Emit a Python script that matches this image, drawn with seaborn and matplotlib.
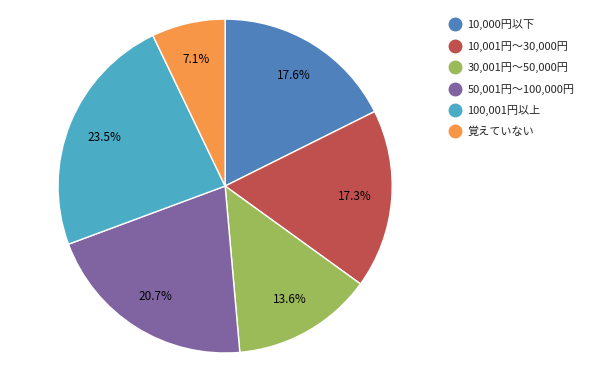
import matplotlib.pyplot as plt
import seaborn as sns
from matplotlib.lines import Line2D

categories = ["10,000円以下", "10,001円～30,000円", "30,001円～50,000円",
              "50,001円～100,000円", "100,001円以上", "覚えていない"]
shares = [17.6, 17.3, 13.6, 20.7, 23.5, 7.1]
colors = ["#4F81BD", "#C0504D", "#9BBB59", "#8064A2", "#4BACC6", "#F79646"]

sns.set_style("white")
plt.rcParams['font.family'] = ['Noto Sans CJK JP', 'DejaVu Sans']

fig = plt.figure(figsize=(6, 3.71), dpi=100)
ax = fig.add_axes([0.0967, 0.0485, 0.557, 0.900])

wedges, texts, autotexts = ax.pie(
    shares, colors=sns.color_palette(colors), startangle=90, counterclock=False,
    autopct="%.1f%%", pctdistance=0.78,
    wedgeprops=dict(edgecolor="white", linewidth=1),
    textprops=dict(fontsize=8.5, color="black"))
ax.set_aspect("auto")
ax.set_xlim(-1, 1)
ax.set_ylim(-1, 1)

handles = [Line2D([0], [0], marker="o", linestyle="", markersize=9,
                  markerfacecolor=c, markeredgecolor=c) for c in colors]
fig.legend(handles, categories, loc="upper left", bbox_to_anchor=(0.73, 0.975),
           frameon=False, fontsize=8, handletextpad=0.55, labelspacing=0.95,
           handlelength=1.2)

fig.savefig("out.png", dpi=100)
